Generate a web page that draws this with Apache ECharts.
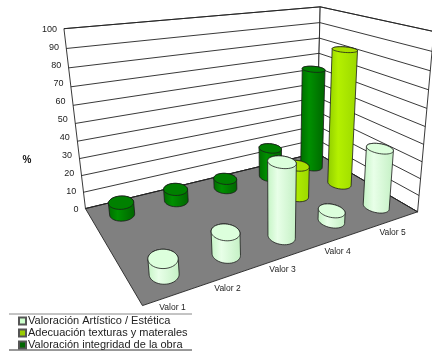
<!DOCTYPE html>
<html>
<head>
<meta charset="utf-8">
<style>html,body{margin:0;padding:0;background:#fff}#chart{width:432px;height:352px}</style>
<script src="https://cdn.jsdelivr.net/npm/echarts@6/dist/echarts.min.js"></script>
</head>
<body>
<div id="chart"></div>
<script>
// Chart values
const categories = ['Valor 1', 'Valor 2', 'Valor 3', 'Valor 4', 'Valor 5'];
const valueTicks = [0, 10, 20, 30, 40, 50, 60, 70, 80, 90, 100];
const seriesNames = ['Valoración Artístico / Estética', 'Adecuación texturas y materales', 'Valoración integridad de la obra'];
const artistico = [8, 12, 41, 6, 35];
const adecuacion = [null, null, null, 19, 83];
const integridad = [7, 7, 6, 19, 65];

// Box corners on screen: [u along categories, v into depth, h up, screenX, screenY]
const boxCorners = [
  [0, 0, 0, 143, 306], [1, 0, 0, 417, 212], [0, 1, 0, 85, 208], [1, 1, 0, 317, 153],
  [0, 1, 1, 64, 29], [1, 1, 1, 320, 7], [1, 0, 1, 434, 31]
];

function solve(A, b) {
  const n = b.length, M = A.map((r, i) => r.concat(b[i]));
  for (let c = 0; c < n; c++) {
    let p = c;
    for (let r = c + 1; r < n; r++) if (Math.abs(M[r][c]) > Math.abs(M[p][c])) p = r;
    [M[c], M[p]] = [M[p], M[c]];
    for (let r = 0; r < n; r++) {
      if (r === c) continue;
      const f = M[r][c] / M[c][c];
      for (let k = c; k <= n; k++) M[r][k] -= f * M[c][k];
    }
  }
  return M.map((r, i) => r[n] / r[i]);
}

// Fit a projective camera to the box corners by least squares
const cam = (function () {
  const rows = [], rhs = [];
  boxCorners.forEach(([u, v, h, x, y]) => {
    rows.push([u, v, h, 1, 0, 0, 0, 0, -x * u, -x * v, -x * h]); rhs.push(x);
    rows.push([0, 0, 0, 0, u, v, h, 1, -y * u, -y * v, -y * h]); rhs.push(y);
  });
  const N = 11, AtA = [], Atb = [];
  for (let i = 0; i < N; i++) {
    AtA.push([]);
    let s = 0;
    for (let r = 0; r < rows.length; r++) s += rows[r][i] * rhs[r];
    Atb.push(s);
    for (let j = 0; j < N; j++) {
      let t = 0;
      for (let r = 0; r < rows.length; r++) t += rows[r][i] * rows[r][j];
      AtA[i].push(t);
    }
  }
  return solve(AtA, Atb);
})();

function project(u, v, h) {
  const w = cam[8] * u + cam[9] * v + cam[10] * h + 1;
  return [(cam[0] * u + cam[1] * v + cam[2] * h + cam[3]) / w,
          (cam[4] * u + cam[5] * v + cam[6] * h + cam[7]) / w];
}

function hull(points) {
  const p = points.slice().sort((a, b) => a[0] - b[0] || a[1] - b[1]);
  const cross = (o, a, b) => (a[0] - o[0]) * (b[1] - o[1]) - (a[1] - o[1]) * (b[0] - o[0]);
  const lo = [], up = [];
  p.forEach(q => { while (lo.length > 1 && cross(lo[lo.length - 2], lo[lo.length - 1], q) <= 0) lo.pop(); lo.push(q); });
  p.slice().reverse().forEach(q => { while (up.length > 1 && cross(up[up.length - 2], up[up.length - 1], q) <= 0) up.pop(); up.push(q); });
  return lo.slice(0, -1).concat(up.slice(0, -1));
}

// Convert a data pair to unit box coordinates through the hidden axes
function toUnit(api, params, cat, val) {
  const c = api.coord([cat, val]), g = params.coordSys;
  return [(c[0] - g.x) / g.width, (g.y + g.height - c[1]) / g.height];
}

// Floor-plane outline of a cylinder: a level ellipse at the nearest row, carried
// back to floor units with the local Jacobian of the projection
const baseRadius = (function () {
  const e = 0.001, u0 = 0.1, v0 = 0.17, o = project(u0, v0, 0);
  const pu = project(u0 + e, v0, 0), pv = project(u0, v0 + e, 0);
  const a = (pu[0] - o[0]) / e, b = (pv[0] - o[0]) / e, c = (pu[1] - o[1]) / e, d = (pv[1] - o[1]) / e;
  const det = a * d - b * c;
  return (sx, sy) => [(d * sx - b * sy) / det, (-c * sx + a * sy) / det];
})();
const RX = 15, RY = 10;

function cylinder(depth, shades) {
  return function (params, api) {
    const cat = api.value(0), val = api.value(1);
    if (isNaN(val)) return null;
    const [u, h] = toUnit(api, params, cat, val);
    const base = [], top = [];
    for (let i = 0; i < 48; i++) {
      const a = i / 48 * Math.PI * 2;
      const [du, dv] = baseRadius(RX * Math.cos(a), RY * Math.sin(a));
      base.push(project(u + du, depth + dv, 0));
      top.push(project(u + du, depth + dv, h));
    }
    const line = { stroke: '#1a1a1a', lineWidth: 0.8 };
    return {
      type: 'group',
      children: [
        { type: 'polygon', shape: { points: hull(base.concat(top)) },
          style: Object.assign({ fill: new echarts.graphic.LinearGradient(0, 0, 1, 0, [
            { offset: 0, color: shades[0] }, { offset: 0.35, color: shades[1] }, { offset: 1, color: shades[2] }
          ]) }, line) },
        { type: 'polygon', shape: { points: top }, style: Object.assign({ fill: shades[3] }, line) }
      ]
    };
  };
}

const edge = { stroke: '#222', lineWidth: 0.9 };
function drawBox() {
  const q = (...c) => c.map(p => project(p[0], p[1], p[2]));
  return {
    type: 'group',
    children: [
      { type: 'polygon', shape: { points: q([0, 1, 0], [1, 1, 0], [1, 1, 1], [0, 1, 1]) }, style: Object.assign({ fill: '#fff' }, edge) },
      { type: 'polygon', shape: { points: q([1, 1, 0], [1, 0, 0], [1, 0, 1], [1, 1, 1]) }, style: Object.assign({ fill: '#fff' }, edge) },
      { type: 'polygon', shape: { points: q([0, 0, 0], [1, 0, 0], [1, 1, 0], [0, 1, 0]) }, style: Object.assign({ fill: '#808080' }, edge) }
    ]
  };
}

// Tick labels sit evenly spaced along the left upright
function drawGridLine(params, api) {
  const [, h] = toUnit(api, params, 0, api.value(1));
  const a = project(0, 1, h), b = project(1, 1, h), c = project(1, 0, h);
  const low = project(0, 1, 0), high = project(0, 1, 1);
  return {
    type: 'group',
    children: [
      { type: 'polyline', shape: { points: [a, b, c] }, style: Object.assign({ fill: null }, edge) },
      { type: 'text', style: { text: String(api.value(1)),
        x: low[0] + (high[0] - low[0]) * h - 7, y: low[1] + (high[1] - low[1]) * h + 0.5,
        align: 'right', verticalAlign: 'middle', fill: '#222', font: '9px "Liberation Sans"' } }
    ]
  };
}

// Category labels sit evenly spaced under the front floor edge
function drawCategoryLabel(params, api) {
  const [u] = toUnit(api, params, api.value(0), 0);
  const a = project(0, 0, 0), b = project(1, 0, 0);
  return { type: 'text', style: { text: categories[params.dataIndex],
    x: a[0] + (b[0] - a[0]) * u + 2.5, y: a[1] + (b[1] - a[1]) * u + 11.3, align: 'center', verticalAlign: 'middle',
    fill: '#222', font: '8.5px "Liberation Sans"' } };
}

const pairs = values => values.map((v, i) => [i, v === null ? NaN : v]);
const custom = (extra) => Object.assign({ type: 'custom', clip: false, encode: { x: 0, y: 1 }, animation: false, silent: true }, extra);

const chart = echarts.init(document.getElementById('chart'), null, { renderer: 'canvas' });
chart.setOption({
  animation: false,
  backgroundColor: '#fff',
  grid: { left: 0, right: 0, top: 0, bottom: 0 },
  xAxis: { type: 'category', data: categories, show: false },
  yAxis: { type: 'value', min: 0, max: 100, interval: 10, show: false },
  legend: {
    data: seriesNames, orient: 'vertical', left: 18, top: 315, padding: 0, itemGap: 0,
    itemWidth: 7, itemHeight: 7, icon: 'rect',
    textStyle: { fontFamily: 'Liberation Sans', fontSize: 11, color: '#222', padding: [0, 0, 0, -3], lineHeight: 12 }
  },
  graphic: [
    { type: 'line', shape: { x1: 9, y1: 314, x2: 192, y2: 314 }, style: { stroke: '#888', lineWidth: 1 } },
    { type: 'line', shape: { x1: 9, y1: 350, x2: 192, y2: 350 }, style: { stroke: '#333', lineWidth: 1 } },
    { type: 'text', style: { text: '%', x: 27, y: 160, align: 'center', verticalAlign: 'middle', fill: '#111', font: 'bold 10px "Liberation Sans"' } }
  ],
  series: [
    custom({ name: 'box', z: 1, data: [[0, 0]], renderItem: drawBox }),
    custom({ name: 'grid', z: 2, data: valueTicks.map(t => [0, t]), renderItem: drawGridLine }),
    custom({ name: 'labels', z: 2, data: categories.map((c, i) => [i, 0]), renderItem: drawCategoryLabel }),
    custom({ name: seriesNames[2], z: 3, itemStyle: { color: '#006600', borderColor: '#555', borderWidth: 0.5 }, data: pairs(integridad),
      renderItem: cylinder(0.83, ['#006c00', '#009000', '#006400', '#008000']) }),
    custom({ name: seriesNames[1], z: 4, itemStyle: { color: '#99cc00', borderColor: '#555', borderWidth: 0.5 }, data: pairs(adecuacion),
      renderItem: cylinder(0.52, ['#8fcc00', '#b4f000', '#9bd800', '#a8e000']) }),
    custom({ name: seriesNames[0], z: 5, itemStyle: { color: '#ccffcc', borderColor: '#555', borderWidth: 0.5 }, data: pairs(artistico),
      renderItem: cylinder(0.17, ['#c4f4c4', '#e8ffe8', '#c4f0c4', '#dcffdc']) })
  ]
});
</script>
</body>
</html>
